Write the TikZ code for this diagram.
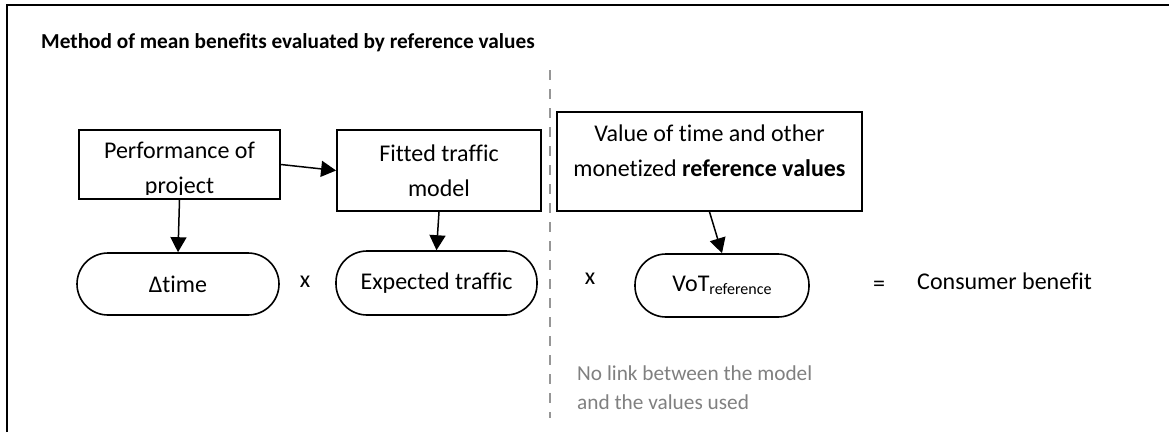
\documentclass[tikz,border=0pt]{standalone}
\usepackage{fontspec}
\setmainfont{Carlito}[Ligatures=NoCommon]
\usetikzlibrary{arrows.meta}
\definecolor{dashgray}{RGB}{150,150,150}
\definecolor{notegray}{RGB}{128,128,128}
\tikzset{
  boxshape/.style={draw=black, line width=1.8pt, rectangle, inner sep=0pt},
  pill/.style={draw=black, line width=1.6pt, rectangle, rounded corners=31pt, inner sep=0pt,
    font=\fontsize{24}{30}\selectfont},
  bodytext/.style={inner sep=0pt, align=center, font=\fontsize{24}{34.5}\selectfont},
  conn/.style={line width=1.5pt, -{Triangle[length=15pt,width=16pt]}},
}
\begin{document}
\begin{tikzpicture}[x=1pt,y=-1pt]
\useasboundingbox (0,0) rectangle (1169,432);
% frame
\coordinate (fbl) at (7,432);
\coordinate (ftl) at (7,5);
\coordinate (ftr) at (1169,5);
\draw[line width=2pt] (fbl) -- (ftl) -- (ftr);
% title
\node[anchor=west, inner sep=0pt, font=\fontsize{21.3}{24}\selectfont\bfseries] (title) at (41,43)
  {Method of mean benefits evaluated by reference values};
% dashed separator
\coordinate (d1) at (550,70);
\coordinate (d2) at (550,418);
\draw[dashgray, line width=2pt, dash pattern=on 10pt off 9pt] (d1) -- (d2);
% boxes
\node[boxshape, minimum width=201pt, minimum height=69pt] (perf) at (179.5,164.5) {};
\begin{scope}
  \clip (79,120) rectangle (280,194);
  \node[bodytext, font=\fontsize{24}{35}\selectfont] (perftext) at (179.5,170) {Performance of\\project};
\end{scope}
\node[boxshape, minimum width=204pt, minimum height=81pt] (fit) at (439,170.5) {};
\node[bodytext] (fittext) at (439,170.5) {Fitted traffic\\model};
\node[boxshape, minimum width=305pt, minimum height=99pt] (val) at (709.5,161.5) {};
\node[bodytext] (valtext) at (709.5,150.5) {Value of time and other\\monetized \textbf{reference values}};
% pills
\node[pill, minimum width=202pt, minimum height=62pt] (dt) at (178,284) {Δtime};
\node[pill, minimum width=201pt, minimum height=64pt] (et) at (436.5,283) {Expected traffic};
\node[pill, minimum width=174pt, minimum height=63pt] (vot) at (722,285.5)
  {VoT\raisebox{-0.25ex}{\fontsize{16}{16}\selectfont reference}};
% operators
\node[bodytext] (x1) at (305,282) {x};
\node[bodytext] (x2) at (590,279) {x};
\node[bodytext] (eq) at (879,286) {=};
\node[bodytext, anchor=west] (cb) at (917,281) {Consumer benefit};
% note
\node[anchor=west, inner sep=0pt, align=left, text=notegray, font=\fontsize{21.3}{29}\selectfont] (note) at (577,387.5)
  {No link between the model\\and the values used};
% connectors
\draw[conn] (perf.east) -- (fit.west);
\draw[conn] (perf.south) -- (dt.north);
\draw[conn] (fit.south) -- (et.north);
\draw[conn] (val.south) -- (vot.north);
\end{tikzpicture}
\end{document}
